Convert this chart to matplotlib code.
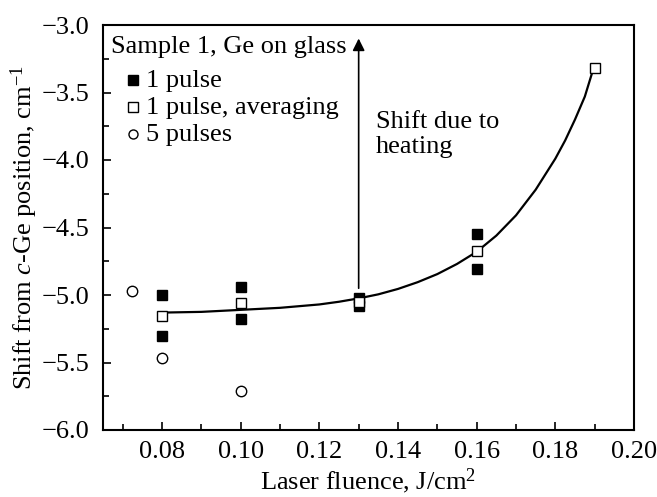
import numpy as np
import matplotlib
matplotlib.use('Agg')
import matplotlib.pyplot as plt
from matplotlib.ticker import MultipleLocator, FuncFormatter

## values
x_one = [0.08, 0.08, 0.10, 0.10, 0.13, 0.13, 0.16, 0.16]
y_one = [-5.00, -5.30, -4.94, -5.18, -5.025, -5.08, -4.545, -4.81]

x_avg = [0.08, 0.10, 0.13, 0.16, 0.19]
y_avg = [-5.155, -5.06, -5.05, -4.675, -3.32]

x_five = [0.0723, 0.08, 0.10]
y_five = [-4.97, -5.465, -5.71]

## the drawn trend curve, traced along its length
x_fit = [0.0805, 0.090, 0.100, 0.110, 0.120, 0.125, 0.130, 0.135, 0.140, 0.145,
         0.150, 0.155, 0.160, 0.165, 0.170, 0.175, 0.180, 0.1825, 0.185, 0.1875, 0.1895]
y_fit = [-5.13, -5.125, -5.11, -5.095, -5.07, -5.05, -5.025, -4.995, -4.955, -4.905,
         -4.845, -4.77, -4.68, -4.56, -4.41, -4.22, -3.99, -3.855, -3.70, -3.53, -3.34]

legend_title = 'Sample 1, Ge on glass'
legend_labels = ['1 pulse', '1 pulse, averaging', '5 pulses']

plt.rcParams['font.family'] = ['Liberation Serif', 'DejaVu Serif']
plt.rcParams['mathtext.fontset'] = 'custom'
plt.rcParams['mathtext.rm'] = 'Liberation Serif'
plt.rcParams['mathtext.it'] = 'Liberation Serif:italic'

FS = 19
W, H = 657, 497
L, R, T, B = 103, 634, 25, 430

fig = plt.figure(figsize=(W/100, H/100), dpi=100)
ax = fig.add_axes([L/W, 1 - B/H, (R-L)/W, (B-T)/H])

def ax_frac(px, py):
    ## pixel position in the picture -> axes fraction
    return (px - L) / (R - L), (B - py) / (B - T)

ax.plot(x_fit, y_fit, color='black', lw=1.6, zorder=2)
ax.plot(x_one, y_one, 's', color='black', ms=7.5, ls='none', zorder=3)
ax.plot(x_avg, y_avg, 's', mfc='white', mec='black', mew=1.0, ms=7.5, ls='none', zorder=4)
ax.plot(x_five, y_five, 'o', mfc='white', mec='black', mew=1.0, ms=7.5, ls='none', zorder=3)

## legend drawn by hand so the entries sit indented under the title
tx, ty = ax_frac(111, 53)
ax.text(tx, ty, legend_title, transform=ax.transAxes, fontsize=FS, va='baseline', ha='left')
styles = [dict(marker='s', color='black'),
          dict(marker='s', mfc='white', mec='black', mew=1.0),
          dict(marker='o', mfc='white', mec='black', mew=1.0)]
rows = [80, 107, 134]
for lab, st, ry in zip(legend_labels, styles, rows):
    mx, my = ax_frac(133, ry)
    ax.plot([mx], [my], transform=ax.transAxes, ms=6.5, ls='none', clip_on=False, **st)
    lx, ly = ax_frac(146, ry + 7)
    ax.text(lx, ly, lab, transform=ax.transAxes, fontsize=FS, va='baseline', ha='left')

## heating arrow
ax.annotate('', xy=(0.13, -3.10), xytext=(0.13, -4.95),
            arrowprops=dict(arrowstyle='-|>', color='black', lw=1.2,
                            mutation_scale=18, shrinkA=0, shrinkB=0))
sx, sy = ax_frac(376, 128)
ax.text(sx, sy, 'Shift due to', transform=ax.transAxes, fontsize=FS, va='baseline', ha='left')
sx, sy = ax_frac(376, 153)
ax.text(sx, sy, 'heating', transform=ax.transAxes, fontsize=FS, va='baseline', ha='left')

ax.set_xlim(0.065, 0.20)
ax.set_ylim(-6.0, -3.0)
ax.xaxis.set_major_locator(MultipleLocator(0.02))
ax.xaxis.set_minor_locator(MultipleLocator(0.01))
ax.yaxis.set_major_locator(MultipleLocator(0.5))
ax.yaxis.set_minor_locator(MultipleLocator(0.25))
ax.xaxis.set_major_formatter(FuncFormatter(lambda v, p: '%.2f' % v))
ax.yaxis.set_major_formatter(FuncFormatter(lambda v, p: ('%.1f' % v).replace('-', '\u2212')))
ax.tick_params(which='both', direction='in', top=False, right=False, labelsize=FS, width=1.2)
ax.tick_params(which='major', length=6)
ax.tick_params(which='minor', length=4)
ax.tick_params(axis='y', pad=10)
ax.tick_params(axis='x', pad=8)
for s in ax.spines.values():
    s.set_linewidth(1.5)

ax.set_xlabel('Laser fluence, J/cm$^2$', fontsize=FS, labelpad=2.5)
ax.set_ylabel('Shift from $\\mathit{c}$-Ge position, cm$^{-1}$', fontsize=FS, labelpad=1)

fig.savefig('out.png', dpi=100)
